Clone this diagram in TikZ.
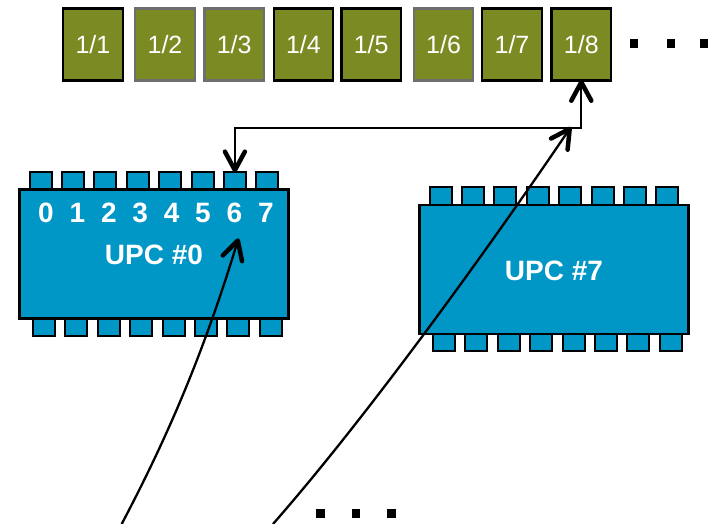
\documentclass[tikz,border=0pt]{standalone}
\usepackage{fontspec}
\setmainfont{Liberation Sans}
\usetikzlibrary{decorations.markings}

\definecolor{olivebox}{RGB}{124,138,36}
\definecolor{chipblue}{RGB}{0,150,198}
\definecolor{rimgray}{RGB}{110,110,110}

\begin{document}
\begin{tikzpicture}[x=1pt,y=-1pt,
  barbpen/.style={line width=4.5pt, line cap=round, line join=round},
  headend/.style={postaction={decorate, decoration={markings,
    mark=at position -0.1pt with {\draw[barbpen] (-19pt,10pt) -- (-0.5pt,0pt) -- (-19pt,-10pt);}}}},
  headstart/.style={postaction={decorate, decoration={markings,
    mark=at position 0.1pt with {\draw[barbpen] (19pt,10pt) -- (0.5pt,0pt) -- (19pt,-10pt);}}}},
  slot/.style={draw=black, line width=2.2pt, fill=olivebox,
    minimum width=59.5pt, minimum height=72pt, inner sep=0pt,
    text=white, font=\fontsize{25}{25}\selectfont},
  leg/.style={draw=black, line width=2pt, fill=chipblue,
    minimum width=22pt, minimum height=17.5pt, inner sep=0pt},
  chip/.style={draw=black, line width=2.8pt, fill=chipblue,
    minimum width=269pt, minimum height=129pt, inner sep=0pt},
  chiplabel/.style={text=white, inner sep=0pt,
    font=\bfseries\fontsize{28}{28}\selectfont},
  portnum/.style={text=white, inner sep=0pt,
    font=\bfseries\fontsize{28}{28}\selectfont},
  dotmark/.style={fill=black, minimum size=8.5pt, inner sep=0pt},
  wire/.style={line width=2.3pt, headend},
  wirebi/.style={line width=2.3pt, headend, headstart}
]
\useasboundingbox (0,0) rectangle (712,524);

% row of slots 1/1 ... 1/8
\foreach \n/\x/\rim in {1/92.9/black, 2/165/rimgray, 3/234.2/rimgray,
                        4/303.4/black, 5/371.2/black, 6/443.6/rimgray,
                        7/512/black, 8/581.3/black}
  \node[slot, draw=\rim] (s\n) at (\x,44.5) {1/\n};

% continuation marks after the slots
\node[dotmark] (d1) at (634,43.5) {};
\node[dotmark] (d2) at (671,43.5) {};
\node[dotmark] (d3) at (704,43.5) {};

% two processor packages: legs, then body
\foreach \c/\dx/\dy in {0/0/0, 7/400/15.7} {
  \foreach \i in {0,...,7} {
    \node[leg] (u\c-t\i) at (40.5+32.4*\i+\dx, 180.5+\dy) {};
    \node[leg] (u\c-b\i) at (43.9+32.4*\i+\dx, 327+\dy) {};
  }
  \node[chip] (u\c) at (154+\dx, 253.8+\dy) {};
}

% port numbers and labels
\foreach \i in {0,...,7}
  \node[portnum] (p\i) at (46+31.4*\i, 213) {\i};
\node[chiplabel] (l0) at (154,255) {UPC \#0};
\node[chiplabel] (l7) at (554,271) {UPC \#7};

% lower continuation marks
\node[dotmark] (e1) at (320.5,513.5) {};
\node[dotmark] (e2) at (356,513.5) {};
\node[dotmark] (e3) at (391.5,513.5) {};

% link between port 6 of UPC #0 and slot 1/8
\coordinate (bus) at (0,127.7);
\draw[wirebi] (u0-t6.north) -- (u0-t6.north |- bus) -- (s8.south |- bus) -- (s8.south);

% incoming feeds
\coordinate (src0) at (121.7,524);
\coordinate (in0) at (238,240);
\draw[wire] (src0) .. controls +(45,-85.5) and +(-35,115.5) .. (in0);

\coordinate (src7) at (273,524);
\coordinate (feed) at (570,128.3);
\draw[wire] (src7) .. controls +(100,-114) and +(-70,103.6) .. (feed);
\end{tikzpicture}
\end{document}
